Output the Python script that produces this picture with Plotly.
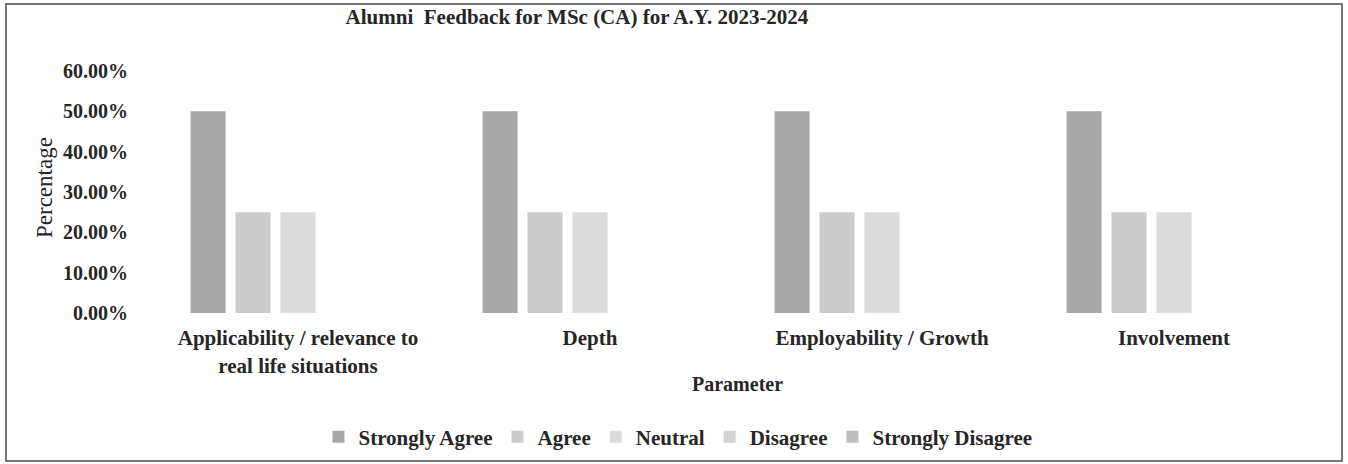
import plotly.graph_objects as go

categories = ["Applicability / relevance to<br>real life situations", "Depth",
              "Employability / Growth", "Involvement"]
series_names = ["Strongly Agree", "Agree", "Neutral", "Disagree", "Strongly Disagree"]
strongly_agree = [0.50, 0.50, 0.50, 0.50]
agree = [0.25, 0.25, 0.25, 0.25]
neutral = [0.25, 0.25, 0.25, 0.25]
disagree = [0.0, 0.0, 0.0, 0.0]
strongly_disagree = [0.0, 0.0, 0.0, 0.0]
y_ticks = [0.0, 0.1, 0.2, 0.3, 0.4, 0.5, 0.6]

values = [strongly_agree, agree, neutral, disagree, strongly_disagree]
colors = ["#a8a8a8", "#cbcbcb", "#dcdcdc", "#d2d2d2", "#bdbdbd"]

W, H = 1348, 464
L, R, T, B = 152, 1320, 71, 313
FONT = "Liberation Serif"
TXT = "#262626"

fig = go.Figure()
for name, vals, col in zip(series_names, values, colors):
    fig.add_trace(go.Bar(x=categories, y=vals, name=name, marker_color=col,
                         marker_line_width=0))

def px_x(px):
    return (px - L) / (R - L)

def px_y(py):
    return (B - py) / (B - T)

fig.update_layout(
    width=W, height=H,
    margin=dict(l=L, r=W - R, t=T, b=H - B, autoexpand=False),
    paper_bgcolor="white", plot_bgcolor="white",
    font=dict(family=FONT, color=TXT, size=19),
    bargap=0.23, bargroupgap=0.22,
    title=dict(text="<b>Alumni  Feedback for MSc (CA) for A.Y. 2023-2024</b>",
               x=577 / W, xref="container", xanchor="center",
               y=1 - 17 / H, yref="container", yanchor="middle",
               font=dict(family=FONT, size=21, color=TXT)),
    legend=dict(orientation="h", x=px_x(678), xanchor="center",
                y=px_y(437), yanchor="middle",
                font=dict(family=FONT, size=21, color=TXT, weight="bold"),
                itemwidth=30, traceorder="normal"),
    showlegend=True,
)

fig.update_yaxes(range=[0, 0.6], tickvals=y_ticks, tickformat=".2%",
                 showgrid=False, zeroline=False, showline=False, automargin=False,
                 ticks="outside", ticklen=19, tickcolor="rgba(0,0,0,0)",
                 tickfont=dict(family=FONT, size=20, color=TXT, weight="bold"))
fig.update_xaxes(showgrid=False, showline=False, zeroline=False, automargin=False,
                 ticks="outside", ticklen=6, tickcolor="rgba(0,0,0,0)",
                 tickfont=dict(family=FONT, size=21, color=TXT, weight="bold"))

fig.add_annotation(text="Percentage", textangle=-90, xref="paper", yref="paper",
                   x=px_x(44), y=px_y(188), xanchor="center", yanchor="middle",
                   showarrow=False, font=dict(family=FONT, size=23, color=TXT))
fig.add_annotation(text="<b>Parameter</b>", xref="paper", yref="paper",
                   x=px_x(737), y=px_y(384), xanchor="center", yanchor="middle",
                   showarrow=False, font=dict(family=FONT, size=20, color=TXT))

fig.add_shape(type="rect", xref="paper", yref="paper",
              x0=px_x(6), x1=px_x(1342), y0=px_y(461), y1=px_y(4),
              line=dict(color="#4a4a4a", width=1.5), fillcolor="rgba(0,0,0,0)",
              layer="below")

fig.write_html("out.html", config={"displayModeBar": False},
               post_script="document.body.style.margin='0';document.body.style.overflow='hidden';")
